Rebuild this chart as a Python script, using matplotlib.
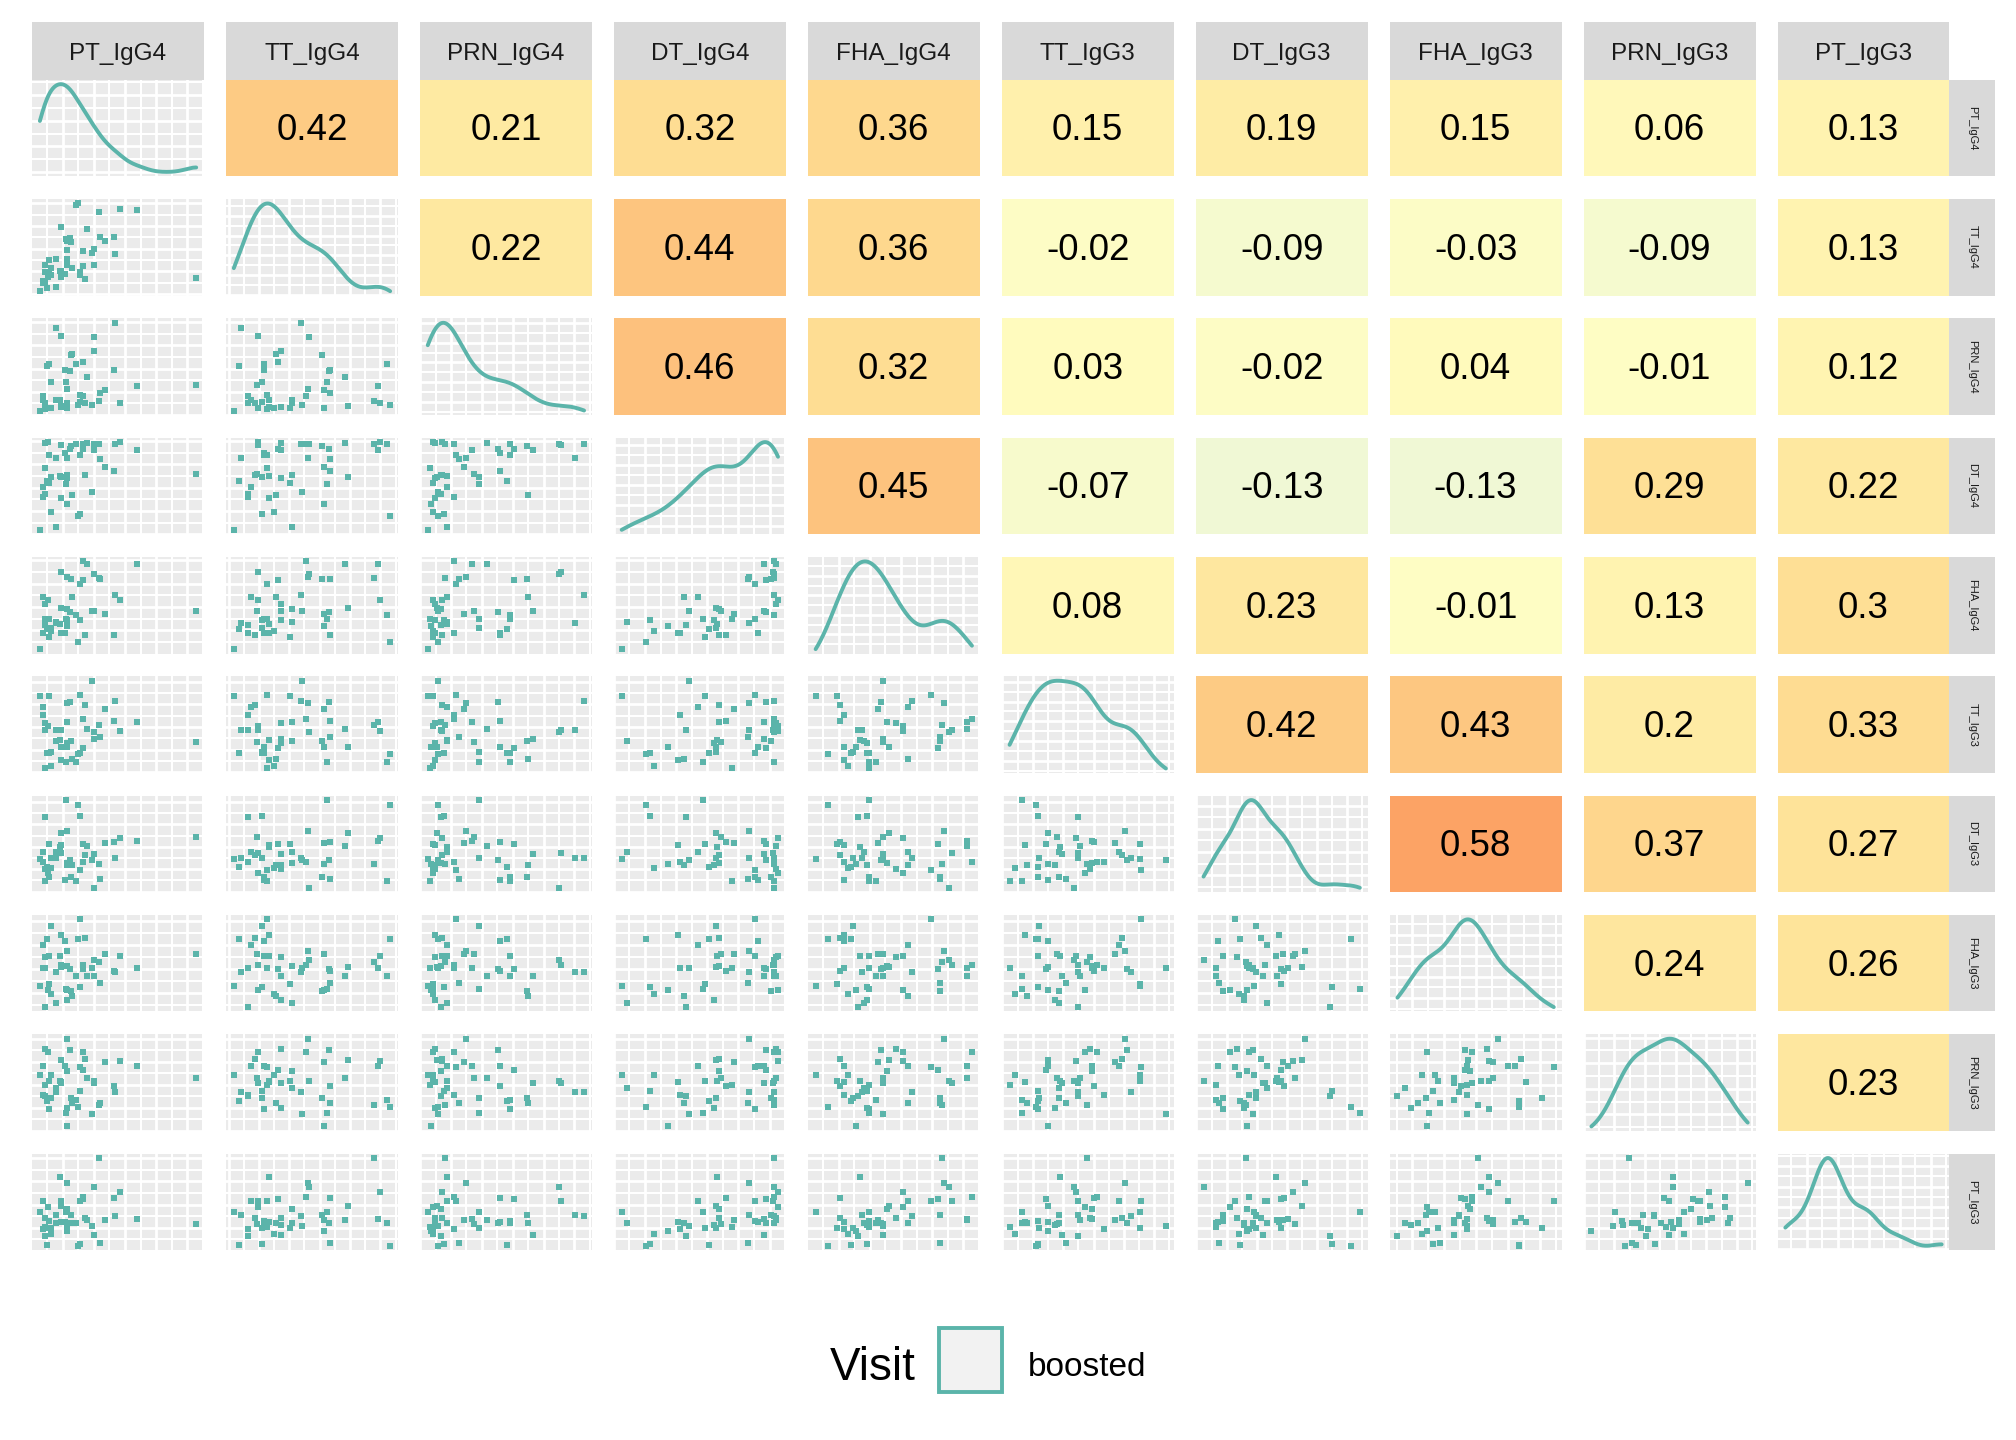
import numpy as np
import matplotlib
matplotlib.use('Agg')
import matplotlib.pyplot as plt
from matplotlib.colors import LinearSegmentedColormap
from matplotlib.ticker import AutoMinorLocator, MultipleLocator, MaxNLocator
from matplotlib.patches import Rectangle

plt.rcParams['font.family'] = ['Liberation Sans', 'DejaVu Sans']

# variable names (same order on both axes)
variables = ['PT_IgG4', 'TT_IgG4', 'PRN_IgG4', 'DT_IgG4', 'FHA_IgG4',
             'TT_IgG3', 'DT_IgG3', 'FHA_IgG3', 'PRN_IgG3', 'PT_IgG3']

# values (relative units, one entry per subject)
pt_igg4 = [4.7, 6.4, 6.4, 7.9, 7.9, 7.9, 8.7, 9.3, 9.7, 9.7, 10.9, 11.4, 13.8, 14.3, 16.1, 16.7,
           16.7, 17.2, 19.0, 19.6, 20.2, 20.2, 20.2, 20.2, 21.9, 22.5, 23.1, 25.4, 26.6, 27.7,
           27.7, 29.5, 29.7, 30.6, 31.8, 34.7, 35.9, 35.9, 38.8, 39.3, 42.2, 47.5, 48.1, 51.0,
           60.9, 95.2]
tt_igg4 = [3.1, 13.5, 11.5, 31.3, 22.9, 11.5, 6.3, 17.7, 20.8, 36.5, 19.8, 27.1, 37.5, 7.3,
           24.0, 17.7, 70.8, 24.0, 20.8, 58.3, 46.9, 37.5, 31.3, 56.6, 59.4, 55.2, 28.1, 93.8,
           95.8, 22.9, 19.8, 45.8, 29.2, 15.6, 68.8, 43.8, 47.9, 31.3, 86.5, 60.4, 56.3, 60.4,
           42.7, 89.6, 88.5, 16.7]
prn_igg4 = [4.4, 15.7, 19.8, 8.5, 5.5, 12.0, 50.5, 7.5, 52.6, 7.5, 34.1, 7.5, 15.7, 90.4, 15.7,
            81.9, 9.6, 8.5, 46.4, 34.1, 26.6, 11.9, 8.5, 6.5, 45.4, 62.5, 63.1, 52.6, 10.6, 20.8,
            13.7, 19.8, 54.6, 12.6, 39.2, 10.6, 81.2, 65.9, 14.7, 22.9, 25.6, 46.4, 95.6, 12.6,
            30.0, 31.1]
dt_igg4 = [4.5, 48.6, 38.4, 93.8, 68.2, 41.4, 54.8, 94.9, 81.5, 52.7, 58.9, 22.9, 7.5, 78.4,
           59.9, 91.8, 58.9, 37.3, 83.6, 51.7, 78.4, 61.0, 57.9, 31.2, 87.7, 90.8, 40.4, 92.8,
           18.8, 81.5, 20.9, 92.8, 87.7, 61.0, 93.8, 43.5, 92.8, 86.6, 92.8, 77.4, 69.2, 65.1,
           92.8, 94.9, 86.6, 62.0]
fha_igg4 = [4.8, 58.0, 21.2, 50.9, 35.5, 29.4, 25.3, 54.9, 35.5, 17.1, 26.3, 23.2, 32.4, 31.4,
            30.4, 83.6, 46.8, 21.2, 21.2, 35.5, 78.5, 45.7, 34.5, 28.3, 42.7, 76.5, 58.0, 39.6,
            11.9, 71.3, 34.5, 94.9, 75.4, 19.1, 91.8, 43.7, 81.6, 43.7, 77.5, 76.5, 40.6, 19.1,
            60.1, 54.9, 91.8, 43.7]
tt_igg3 = [81.3, 68.8, 60.4, 52.1, 4.2, 44.8, 20.8, 49.0, 20.8, 81.3, 21.9, 7.3, 33.3, 44.8,
           34.4, 44.8, 27.1, 13.5, 27.1, 11.5, 72.9, 53.1, 31.3, 27.1, 74.0, 33.3, 14.6, 11.5,
           19.8, 82.3, 20.8, 56.3, 26.0, 70.8, 45.8, 96.9, 42.7, 35.4, 50.0, 37.5, 66.7, 54.2,
           76.0, 43.8, 53.1, 32.3]
dt_igg3 = [34.7, 42.1, 31.6, 24.2, 11.6, 80.0, 26.3, 20.0, 15.8, 50.5, 35.8, 25.3, 42.1, 35.8,
           47.4, 41.1, 63.2, 49.5, 12.6, 97.9, 65.3, 30.5, 28.4, 30.0, 33.7, 15.8, 28.4, 11.6,
           92.6, 23.2, 81.1, 31.6, 50.5, 38.9, 48.4, 33.7, 4.2, 40.0, 29.5, 13.7, 51.6, 52.6,
           35.8, 57.9, 54.7, 58.9]
fha_igg3 = [30.6, 71.8, 48.6, 60.2, 48.6, 9.5, 78.2, 26.4, 61.3, 32.7, 91.5, 23.2, 13.7, 44.4,
            61.3, 51.8, 49.6, 82.4, 76.1, 27.5, 66.5, 50.7, 16.9, 26.4, 47.5, 25.4, 21.1, 41.2,
            78.2, 97.9, 29.6, 51.8, 47.5, 79.2, 41.2, 48.6, 57.0, 41.2, 54.9, 33.8, 63.4, 45.4,
            44.4, 61.3, 48.6, 63.4]
prn_igg3 = [58.7, 68.1, 37.8, 85.8, 48.3, 36.8, 30.6, 82.6, 22.2, 52.4, 33.7, 58.7, 45.1, 41.0,
            52.4, 50.3, 74.3, 51.4, 68.1, 18.1, 96.2, 62.8, 23.3, 4.5, 84.7, 34.7, 28.5, 31.6,
            24.3, 67.0, 42.0, 82.6, 63.9, 75.3, 55.6, 17.0, 52.4, 50.0, 26.4, 28.5, 72.2, 47.2,
            41.0, 73.3, 68.1, 55.6]
pt_igg3 = [40.5, 51.9, 23.0, 34.4, 25.1, 15.8, 6.5, 45.7, 31.3, 24.1, 24.1, 17.9, 29.2, 37.5,
           76.6, 51.9, 46.7, 30.2, 30.2, 40.5, 70.4, 43.6, 27.1, 21.0, 29.2, 37.5, 29.2, 29.2,
           5.5, 51.9, 7.6, 56.0, 54.0, 34.4, 32.3, 26.1, 66.3, 16.8, 96.2, 8.6, 32.3, 55.0,
           36.4, 61.2, 33.3, 28.2]

# correlation labels of the upper triangle, row by row
corr_upper = [
    [0.42, 0.21, 0.32, 0.36, 0.15, 0.19, 0.15, 0.06, 0.13],
    [0.22, 0.44, 0.36, -0.02, -0.09, -0.03, -0.09, 0.13],
    [0.46, 0.32, 0.03, -0.02, 0.04, -0.01, 0.12],
    [0.45, -0.07, -0.13, -0.13, 0.29, 0.22],
    [0.08, 0.23, -0.01, 0.13, 0.3],
    [0.42, 0.43, 0.2, 0.33],
    [0.58, 0.37, 0.27],
    [0.24, 0.26],
    [0.23],
]

legend_title = 'Visit'
legend_label = 'boosted'

data = [pt_igg4, tt_igg4, prn_igg4, dt_igg4, fha_igg4,
        tt_igg3, dt_igg3, fha_igg3, prn_igg3, pt_igg3]

point_col = '#5BB4AA'
strip_col = '#D9D9D9'
txt_col = '#1A1A1A'

cmap_nodes = [(-1.0, '#1A9850'), (-0.13, '#F0F8D5'), (0.0, '#FFFDC2'), (0.13, '#FFF3B0'),
              (0.21, '#FEEAA2'), (0.30, '#FEDF95'), (0.36, '#FED98F'), (0.44, '#FDC680'),
              (0.58, '#FCA466'), (1.0, '#E34A33')]
cmap = LinearSegmentedColormap.from_list('corr', [((v + 1) / 2, c) for v, c in cmap_nodes])


def kde_line(x, n=512):
    # gaussian kde with R's bw.nrd0, evaluated over the data range
    x = np.asarray(x, dtype=float)
    sd = np.std(x, ddof=1)
    q75, q25 = np.percentile(x, [75, 25])
    bw = 0.9 * min(sd, (q75 - q25) / 1.34) * len(x) ** -0.2
    grid = np.linspace(x.min(), x.max(), n)
    z = (grid[:, None] - x[None, :]) / bw
    dens = np.exp(-0.5 * z ** 2).sum(axis=1) / (len(x) * bw * np.sqrt(2 * np.pi))
    return grid, dens


def style_grid(ax, density=False):
    ax.set_facecolor('#EBEBEB')
    ax.xaxis.set_major_locator(MultipleLocator(18))
    ax.xaxis.set_minor_locator(MultipleLocator(9))
    if density:
        ax.yaxis.set_major_locator(MaxNLocator(nbins=5))
        ax.yaxis.set_minor_locator(AutoMinorLocator(2))
    else:
        ax.yaxis.set_major_locator(MultipleLocator(24))
        ax.yaxis.set_minor_locator(MultipleLocator(12))
    ax.grid(which='major', color='white', lw=2.0)
    ax.grid(which='minor', color='white', lw=1.5)
    ax.set_axisbelow(True)
    ax.tick_params(which='both', length=0, labelbottom=False, labelleft=False)
    for s in ax.spines.values():
        s.set_visible(False)


fig = plt.figure(figsize=(20.16, 14.4), dpi=100)

left0, col_step, panel_w = 0.0159, 0.0962, 0.0853
top0, row_step, panel_h = 0.9446, 0.08286, 0.0670
strip_h = 0.0402
side_w = 0.0228
n = len(variables)

for i in range(n):
    for j in range(n):
        x0 = left0 + j * col_step
        y0 = top0 - i * row_step - panel_h
        ax = fig.add_axes([x0, y0, panel_w, panel_h])
        if j > i:
            r = corr_upper[i][j - i - 1]
            ax.set_facecolor(cmap((r + 1) / 2))
            ax.set_xticks([])
            ax.set_yticks([])
            for s in ax.spines.values():
                s.set_visible(False)
            ax.text(0.5, 0.47, format(r, 'g'), transform=ax.transAxes, ha='center',
                    va='center', fontsize=26.5, color='black')
        elif i == j:
            gx, gy = kde_line(data[i])
            ax.plot(gx, gy, color=point_col, lw=2.8, solid_capstyle='round')
            style_grid(ax, density=True)
        else:
            ax.scatter(data[j], data[i], s=14, marker='s', color=point_col, linewidths=0)
            style_grid(ax)

# column strips on top
for j, name in enumerate(variables):
    x0 = left0 + j * col_step
    fig.add_artist(Rectangle((x0, top0), panel_w, strip_h, transform=fig.transFigure,
                             facecolor=strip_col, edgecolor='none'))
    fig.text(x0 + panel_w / 2, top0 + strip_h / 2 - 0.002, name, ha='center', va='center',
             fontsize=17.5, color=txt_col)

# row strips on the right
side_x = left0 + (n - 1) * col_step + panel_w
for i, name in enumerate(variables):
    y0 = top0 - i * row_step - panel_h
    fig.add_artist(Rectangle((side_x, y0), side_w, panel_h, transform=fig.transFigure,
                             facecolor=strip_col, edgecolor='none'))
    fig.text(side_x + side_w / 2, y0 + panel_h / 2, name, ha='center', va='center',
             rotation=270, fontsize=8, color=txt_col)

# legend at the bottom
fig.text(0.4330, 0.0420, legend_title, ha='center', va='baseline', fontsize=33, color='black')
fig.add_artist(Rectangle((0.4660, 0.0335), 0.0312, 0.0440, transform=fig.transFigure,
                         facecolor='#F2F2F2', edgecolor=point_col, lw=2.8))
fig.text(0.5100, 0.0445, legend_label, ha='left', va='baseline', fontsize=24, color='black')

fig.savefig('out.png', dpi=100, facecolor='white')
